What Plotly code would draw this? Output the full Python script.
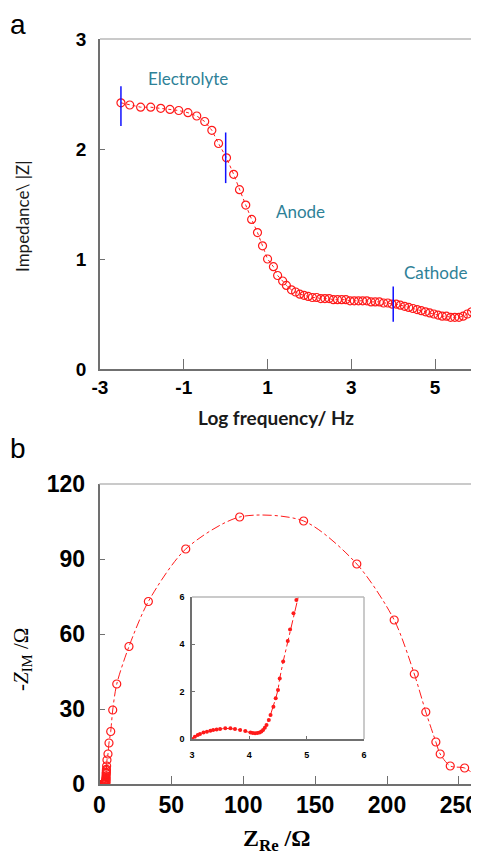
import plotly.graph_objects as go

# ---------- Panel a data ----------
log_freq = [-2.5, -2.29, -2.03, -1.79, -1.55, -1.33, -1.12, -0.90, -0.69, -0.50,
            -0.33, -0.17, 0.02, 0.19, 0.33, 0.48, 0.62, 0.76, 0.88, 1.00,
            1.14, 1.24, 1.36, 1.45, 1.57, 1.67, 1.77, 1.87, 1.97, 2.07,
            2.17, 2.27, 2.37, 2.47, 2.57, 2.67, 2.77, 2.87, 2.97, 3.07,
            3.17, 3.27, 3.37, 3.47, 3.57, 3.67, 3.77, 3.87, 3.97, 4.07,
            4.17, 4.27, 4.37, 4.47, 4.57, 4.67, 4.77, 4.87, 4.97, 5.07,
            5.17, 5.27, 5.37, 5.47, 5.57, 5.67, 5.77, 5.87, 5.97]
impedance = [2.42, 2.40, 2.38, 2.38, 2.37, 2.36, 2.35, 2.33, 2.30, 2.25,
             2.17, 2.05, 1.92, 1.77, 1.63, 1.49, 1.36, 1.24, 1.12, 1.00,
             0.93, 0.85, 0.80, 0.76, 0.72, 0.70, 0.68, 0.67, 0.66, 0.65,
             0.65, 0.64, 0.64, 0.64, 0.63, 0.63, 0.63, 0.63, 0.62, 0.62,
             0.62, 0.62, 0.62, 0.61, 0.61, 0.61, 0.60, 0.60, 0.59, 0.59,
             0.58, 0.57, 0.56, 0.55, 0.54, 0.53, 0.52, 0.51, 0.50, 0.49,
             0.48, 0.48, 0.47, 0.47, 0.47, 0.48, 0.50, 0.52, 0.54]
freq_tickvals = [-3, -1, 1, 3, 5]
freq_ticktext = ["-3", "-1", "1", "3", "5"]
imp_tickvals = [0, 1, 2, 3]
region_x = [-2.5, 0.0, 4.0]
region_low = [2.21, 1.69, 0.43]
region_high = [2.57, 2.15, 0.75]
region_labels = ["Electrolyte", "Anode", "Cathode"]
region_label_x = [-0.9, 1.79, 5.0]
region_label_y = [2.64, 1.43, 0.88]

# ---------- Panel b data ----------
z_re = [3.00, 3.05, 3.10, 3.14, 3.20, 3.26, 3.32, 3.37, 3.43, 3.49,
        3.58, 3.67, 3.75, 3.84, 3.93, 4.02, 4.06, 4.10, 4.14, 4.18,
        4.21, 4.24, 4.27, 4.30, 4.34, 4.37, 4.42, 4.46, 4.50, 4.53,
        4.59, 4.67, 4.71, 4.77, 4.82, 4.95, 5.2, 5.9, 6.6, 7.8,
        9.2, 12.0, 20.5, 34.0, 60.0, 97.5, 142.0, 179.0, 205.0, 219.0,
        227.0, 234.0, 237.0, 244.0, 254.0, 263.0]
z_im = [0.00, 0.10, 0.17, 0.21, 0.27, 0.31, 0.35, 0.38, 0.40, 0.42,
        0.45, 0.45, 0.42, 0.38, 0.34, 0.27, 0.25, 0.24, 0.25, 0.27,
        0.32, 0.38, 0.48, 0.59, 0.80, 1.01, 1.36, 1.72, 2.07, 2.56,
        3.27, 4.14, 4.63, 5.31, 5.87, 7.2, 9.6, 12.0, 16.4, 21.0,
        29.6, 40.0, 55.0, 73.0, 94.0, 106.8, 105.2, 88.0, 65.6, 44.0,
        28.8, 16.8, 12.0, 7.2, 6.4, 2.8]
zre_tickvals = [0, 50, 100, 150, 200, 250]
zim_tickvals = [0, 30, 60, 90, 120]
inset_xtickvals = [3, 4, 5, 6]
inset_ytickvals = [0, 2, 4, 6]

RED = "#ff1a1a"
TICKFONT = "Liberation Sans Narrow, Liberation Sans, Arial Narrow, sans-serif"
OFF = 8  # page body margin
W, H = 479 - OFF, 854 - OFF


def px(x):
    return (x - OFF) / W


def py(y):
    return 1 - (y - OFF) / H


fig = go.Figure()

# panel a
fig.add_trace(go.Scatter(
    x=log_freq, y=impedance, mode="lines+markers", xaxis="x", yaxis="y",
    line=dict(color=RED, width=1, dash="3px,3px"),
    marker=dict(symbol="circle-open", size=8, color=RED, line=dict(width=1.2)),
    showlegend=False, cliponaxis=True))
for xv, lo, hi in zip(region_x, region_low, region_high):
    fig.add_trace(go.Scatter(
        x=[xv, xv], y=[lo, hi], mode="lines", xaxis="x", yaxis="y",
        line=dict(color="#1010ff", width=1.5), showlegend=False))

# panel b main
fig.add_trace(go.Scatter(
    x=z_re, y=z_im, mode="lines+markers", xaxis="x2", yaxis="y2",
    line=dict(color=RED, width=1, dash="dashdot", shape="spline", smoothing=0.8),
    marker=dict(symbol="circle-open", size=8, color=RED, line=dict(width=1.2)),
    showlegend=False))

# panel b inset
fig.add_trace(go.Scatter(
    x=z_re, y=z_im, mode="lines+markers", xaxis="x3", yaxis="y3",
    line=dict(color=RED, width=1, dash="dashdot"),
    marker=dict(symbol="circle", size=4, color=RED),
    showlegend=False))

axis_common = dict(showline=True, linecolor="#707070", linewidth=1.5,
                   showgrid=False, zeroline=False, ticks="inside",
                   tickcolor="#707070", mirror=False, automargin=False)

fig.update_layout(
    template="none",
    width=W, height=H, margin=dict(l=0, r=0, t=0, b=0, autoexpand=False),
    paper_bgcolor="white", plot_bgcolor="white",
    xaxis=dict(domain=[px(100), px(477)], range=[-3, 6],
               tickvals=freq_tickvals, ticktext=freq_ticktext,
               anchor="y", ticklen=10, tickwidth=1.2,
               tickfont=dict(family=TICKFONT, size=19, color="black", weight="bold"),
               **axis_common),
    yaxis=dict(domain=[py(369), py(39)], range=[0, 3], tickvals=imp_tickvals, anchor="x",
               ticklen=5, tickwidth=1.2, ticklabelstandoff=8,
               tickfont=dict(family=TICKFONT, size=19, color="black", weight="bold"),
               **axis_common),
    xaxis2=dict(domain=[px(99.5), 1.0], range=[0, 264], tickvals=zre_tickvals, anchor="y2",
                ticklen=8, tickwidth=1.2,
                tickfont=dict(family=TICKFONT, size=23, color="black", weight="bold"),
                **axis_common),
    yaxis2=dict(domain=[py(784), py(484)], range=[0, 120], tickvals=zim_tickvals, anchor="x2",
                ticklen=6, tickwidth=1.2, ticklabelstandoff=8,
                tickfont=dict(family=TICKFONT, size=23, color="black", weight="bold"),
                **axis_common),
    xaxis3=dict(domain=[px(192), px(364)], range=[3, 6], tickvals=inset_xtickvals, anchor="y3",
                ticklen=3, tickwidth=1, ticklabelstandoff=6,
                tickfont=dict(family=TICKFONT, size=9, color="black", weight="bold"),
                **axis_common),
    yaxis3=dict(domain=[py(739), py(597)], range=[0, 6], tickvals=inset_ytickvals, anchor="x3",
                ticklen=3, tickwidth=1, ticklabelstandoff=4,
                tickfont=dict(family=TICKFONT, size=9, color="black", weight="bold"),
                **axis_common),
)

# light grey top / right frame lines
frame = dict(type="line", line=dict(color="#b8b8b8", width=1.5))
for xr, yr, right in [("x", "y", True), ("x2", "y2", False), ("x3", "y3", True)]:
    fig.add_shape(xref=f"{xr} domain", yref=f"{yr} domain", x0=0, x1=1, y0=1, y1=1, **frame)
    if right:
        fig.add_shape(xref=f"{xr} domain", yref=f"{yr} domain", x0=1, x1=1, y0=0, y1=1, **frame)

LABELFONT = "Lato, Open Sans, sans-serif"
for txt, xv, yv in zip(region_labels, region_label_x, region_label_y):
    fig.add_annotation(x=xv, y=yv, xref="x", yref="y", text=txt, showarrow=False,
                       font=dict(family=LABELFONT, size=17, color="#2e8197"))

# axis titles and panel letters (explicit anchors: paper refs otherwise auto-anchor)
centered = dict(xref="paper", yref="paper", showarrow=False,
                xanchor="center", yanchor="middle")
fig.add_annotation(x=px(22), y=py(216), text="Impedance\\ |Z|", textangle=-90,
                   font=dict(family=LABELFONT, size=17, color="#1a1a1a"), **centered)
fig.add_annotation(x=px(276), y=py(417), text="<b>Log frequency/ Hz</b>",
                   font=dict(family=LABELFONT, size=19, color="#1a1a1a"), **centered)
fig.add_annotation(x=px(22), y=py(660), text="-<i>Z</i><sub>IM</sub> /Ω", textangle=-90,
                   font=dict(family="Liberation Serif, serif", size=21, color="black"),
                   **centered)
fig.add_annotation(x=px(276), y=py(840), text="<b>Z<sub>Re</sub> /Ω</b>",
                   font=dict(family="Liberation Serif, serif", size=24, color="black"),
                   **centered)
fig.add_annotation(x=px(18), y=py(OFF), text="a", borderpad=0,
                   xref="paper", yref="paper", showarrow=False,
                   xanchor="center", yanchor="top",
                   font=dict(family="Liberation Sans, sans-serif", size=28, color="black"))
fig.add_annotation(x=px(18), y=py(448), text="b",
                   font=dict(family="Liberation Sans, sans-serif", size=28, color="black"),
                   **centered)

fig.write_html("out.html")
